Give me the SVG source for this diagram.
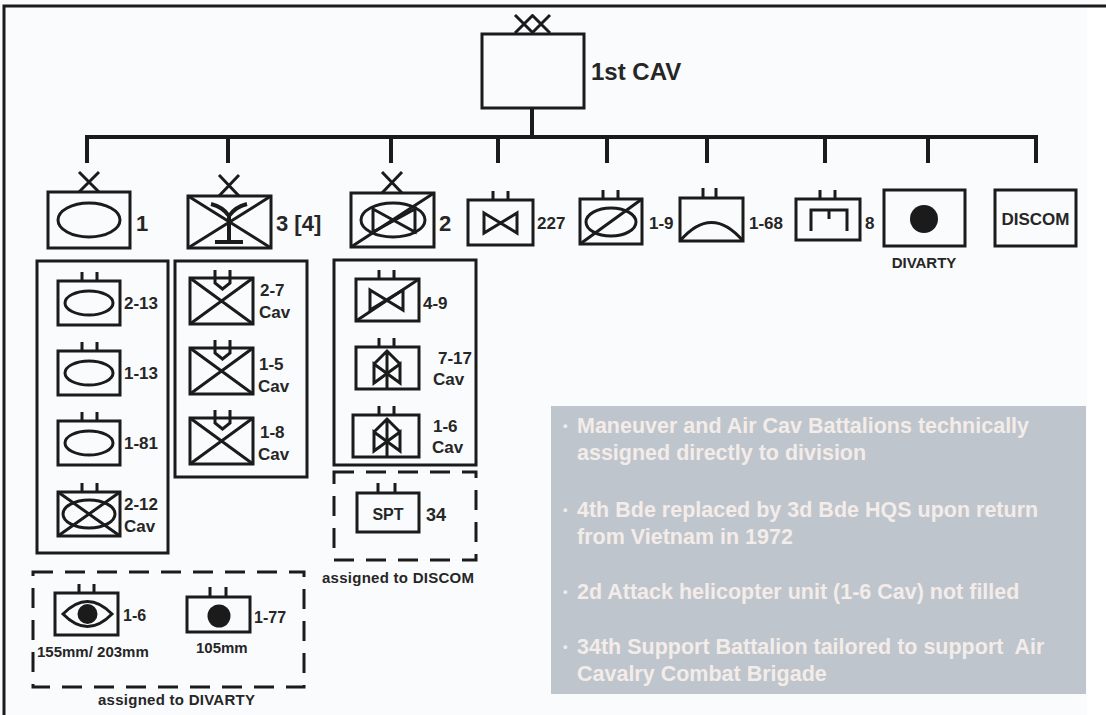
<svg xmlns="http://www.w3.org/2000/svg" width="1106" height="715" viewBox="0 0 1106 715">
<style>
.ln{stroke:#1b1b1b;stroke-width:3;fill:none}
.th{stroke:#1b1b1b;stroke-width:4;fill:none}
.ds{stroke:#1b1b1b;stroke-width:3;fill:none;stroke-dasharray:20 12}
.dot{fill:#1b1b1b}
text{font-family:"Liberation Sans",Arial,sans-serif;font-weight:bold;fill:#262626}
.big{font-size:22px}
.lb{font-size:17px}
.sm{font-size:15px}
.note{font-size:21.5px;fill:#f3ece9}
.bul{font-size:13px;fill:#f3ece9}
</style>
<defs>
<g id="ticks"><path class="ln" d="M0 0V-9M15 0V-9"/></g>
</defs>
<rect x="0" y="0" width="1106" height="715" fill="#fafbfc"/>
<rect x="1087" y="8" width="19" height="707" fill="#ffffff"/>
<path d="M4 715V6H1106" stroke="#1b1b1b" stroke-width="3" fill="none"/>

<g id="connectors">
<path class="th" d="M532 108V137"/>
<path class="th" d="M87 163V137H1036V163"/>
<path class="th" d="M228 137V163M391 137V163M498 137V163M607 137V163M707 137V163M825 137V163M928 137V163"/>
</g>

<g id="division">
<rect class="ln" x="482" y="34" width="102" height="74"/>
<path class="ln" d="M515 15L533 33M533 15L515 33M532 15L550 33M550 15L532 33"/>
<text x="591" y="80" font-size="24">1st CAV</text>
</g>

<g id="bde1">
<rect class="ln" x="48" y="192" width="82" height="56"/>
<path class="ln" d="M79 172L99 192M99 172L79 192"/>
<ellipse class="ln" cx="89" cy="220" rx="31" ry="17"/>
<text class="big" x="136" y="231">1</text>
</g>

<g id="bde3">
<rect class="ln" x="188" y="196" width="83" height="52"/>
<path class="ln" d="M219 175L239 196M239 175L219 196"/>
<path class="ln" d="M188 196L271 248M271 196L188 248"/>
<path class="th" d="M211 204Q223 207 229 216Q235 207 247 204M229 216V241"/>
<path stroke="#1b1b1b" stroke-width="4" d="M215 242H243"/>
<text class="big" x="276" y="231">3 [4]</text>
</g>

<g id="bde2">
<rect class="ln" x="351" y="193" width="83" height="54"/>
<path class="ln" d="M382 172L402 193M402 172L382 193"/>
<ellipse class="ln" cx="393" cy="220" rx="32" ry="17"/>
<path class="ln" d="M373 209L415 232V209L373 232Z"/>
<path class="ln" d="M351 247L434 193"/>
<text class="big" x="439" y="231">2</text>
</g>

<g id="bn227">
<rect class="ln" x="468" y="200" width="65" height="45"/>
<use href="#ticks" x="493" y="200"/>
<path class="ln" d="M484 213L517 233V213L484 233Z"/>
<text class="lb" x="537" y="229">227</text>
</g>

<g id="bn1-9">
<rect class="ln" x="580" y="199" width="62" height="45"/>
<use href="#ticks" x="603" y="199"/>
<ellipse class="ln" cx="611" cy="222" rx="25" ry="14"/>
<path class="ln" d="M580 244L642 199"/>
<text class="lb" x="649" y="229">1-9</text>
</g>

<g id="bn1-68">
<rect class="ln" x="680" y="198" width="63" height="43"/>
<path class="ln" d="M703 198V188M716 198V188"/>
<path class="ln" d="M680 241Q711.5 204 743 241"/>
<text class="lb" x="749" y="229">1-68</text>
</g>

<g id="bn8">
<rect class="ln" x="796" y="199" width="64" height="41"/>
<use href="#ticks" x="820" y="199"/>
<path class="ln" d="M811 231V210H847V231M829 210V219"/>
<text class="lb" x="865" y="229">8</text>
</g>

<g id="divarty">
<rect class="ln" x="884" y="190" width="81" height="56" stroke-width="3.5"/>
<circle class="dot" cx="924" cy="219" r="14"/>
<text class="sm" x="924" y="268" text-anchor="middle">DIVARTY</text>
</g>

<g id="discom">
<rect class="ln" x="995" y="190" width="81" height="56" stroke-width="3.5"/>
<text x="1035.5" y="225" font-size="17" text-anchor="middle">DISCOM</text>
</g>

<g id="bde1-units">
<rect class="ln" x="37" y="261" width="131" height="292"/>
<g id="bn2-13">
<rect class="ln" x="58" y="281" width="62" height="44"/>
<use href="#ticks" x="82" y="281"/>
<ellipse class="ln" cx="89" cy="303" rx="24" ry="12"/>
<text class="lb" x="124" y="309">2-13</text>
</g>
<g id="bn1-13">
<rect class="ln" x="58" y="351" width="62" height="44"/>
<use href="#ticks" x="82" y="351"/>
<ellipse class="ln" cx="89" cy="373" rx="24" ry="12"/>
<text class="lb" x="124" y="379">1-13</text>
</g>
<g id="bn1-81">
<rect class="ln" x="58" y="421" width="62" height="44"/>
<use href="#ticks" x="82" y="421"/>
<ellipse class="ln" cx="89" cy="443" rx="24" ry="12"/>
<text class="lb" x="124" y="449">1-81</text>
</g>
<g id="bn2-12">
<rect class="ln" x="58" y="492" width="62" height="44"/>
<use href="#ticks" x="82" y="492"/>
<ellipse class="ln" cx="89" cy="514" rx="26" ry="14"/>
<path class="ln" d="M58 492L120 536M120 492L58 536"/>
<text class="lb" x="124" y="510">2-12</text>
<text class="lb" x="124" y="532">Cav</text>
</g>
</g>

<g id="bde3-units">
<rect class="ln" x="175" y="261" width="132" height="216"/>
<g id="bn2-7">
<rect class="ln" x="190" y="278" width="63" height="46"/>
<path class="ln" d="M190 278L253 324M253 278L190 324M215 270V283L222.5 289L230 283V270"/>
<text class="lb" x="260" y="296">2-7</text>
<text class="lb" x="259" y="318">Cav</text>
</g>
<g id="bn1-5">
<rect class="ln" x="190" y="348" width="63" height="46"/>
<path class="ln" d="M190 348L253 394M253 348L190 394M215 340V353L222.5 359L230 353V340"/>
<text class="lb" x="259" y="370">1-5</text>
<text class="lb" x="258" y="392">Cav</text>
</g>
<g id="bn1-8">
<rect class="ln" x="190" y="418" width="63" height="46"/>
<path class="ln" d="M190 418L253 464M253 418L190 464M215 410V423L222.5 429L230 423V410"/>
<text class="lb" x="260" y="438">1-8</text>
<text class="lb" x="258" y="460">Cav</text>
</g>
</g>

<g id="bde2-units">
<rect class="ln" x="334" y="260" width="142" height="205"/>
<g id="bn4-9">
<rect class="ln" x="356" y="279" width="63" height="42"/>
<use href="#ticks" x="379" y="279"/>
<path class="ln" d="M370 290L403 310V290L370 310Z"/>
<path class="ln" d="M356 321L419 279"/>
<text class="lb" x="423" y="309">4-9</text>
</g>
<g id="bn7-17">
<rect class="ln" x="356" y="347" width="63" height="42"/>
<use href="#ticks" x="379" y="347"/>
<path class="ln" d="M374 364L400 383V364L374 383Z"/>
<path class="ln" d="M374 364L387 351L400 364M387 351V389"/>
<text class="lb" x="438" y="364">7-17</text>
<text class="lb" x="433" y="385">Cav</text>
</g>
<g id="bn1-6cav">
<rect class="ln" x="353" y="415" width="66" height="42"/>
<use href="#ticks" x="379" y="415"/>
<path class="ln" d="M374 432L400 451V432L374 451Z"/>
<path class="ln" d="M374 432L387 419L400 432M387 419V457"/>
<text class="lb" x="433" y="432">1-6</text>
<text class="lb" x="432" y="453">Cav</text>
</g>
</g>

<g id="discom-units">
<rect class="ds" x="334" y="472" width="142" height="88"/>
<g id="bn34">
<rect class="ln" x="357" y="493" width="62" height="39"/>
<path class="ln" d="M378 493V483M395 493V483"/>
<text x="388" y="520" font-size="16" text-anchor="middle">SPT</text>
<text x="426" y="521" font-size="18">34</text>
</g>
<text class="sm" x="322" y="583" textLength="152">assigned to DISCOM</text>
</g>

<g id="divarty-units">
<rect class="ds" x="33" y="572" width="271" height="115"/>
<g id="bn1-6fa">
<rect class="ln" x="55" y="593" width="63" height="42"/>
<use href="#ticks" x="79" y="593"/>
<path class="ln" d="M63 614Q87.5 589 112 614Q87.5 639 63 614Z"/>
<circle class="dot" cx="87.5" cy="614" r="10"/>
<text x="123" y="621" font-size="16">1-6</text>
<text class="sm" x="37" y="657">155mm/ 203mm</text>
</g>
<g id="bn1-77">
<rect class="ln" x="187" y="597" width="63" height="35"/>
<path class="ln" d="M210 597V587M226 597V587"/>
<circle class="dot" cx="219" cy="616" r="11.5"/>
<text x="254" y="623" font-size="16">1-77</text>
<text class="sm" x="196" y="653">105mm</text>
</g>
<text class="sm" x="98" y="705" textLength="157">assigned to DIVARTY</text>
</g>

<g id="notes">
<rect x="551" y="406" width="535" height="288" fill="#bfc5cc"/>
<text class="bul" x="563" y="430">•</text>
<text class="note" x="577" y="433">Maneuver and Air Cav Battalions technically</text>
<text class="note" x="577" y="460">assigned directly to division</text>
<text class="bul" x="563" y="514">•</text>
<text class="note" x="577" y="517">4th Bde replaced by 3d Bde HQS upon return</text>
<text class="note" x="577" y="544">from Vietnam in 1972</text>
<text class="bul" x="563" y="596">•</text>
<text class="note" x="577" y="599">2d Attack helicopter unit (1-6 Cav) not filled</text>
<text class="bul" x="563" y="651">•</text>
<text class="note" x="577" y="654" xml:space="preserve">34th Support Battalion tailored to support  Air</text>
<text class="note" x="577" y="681">Cavalry Combat Brigade</text>
</g>
</svg>
